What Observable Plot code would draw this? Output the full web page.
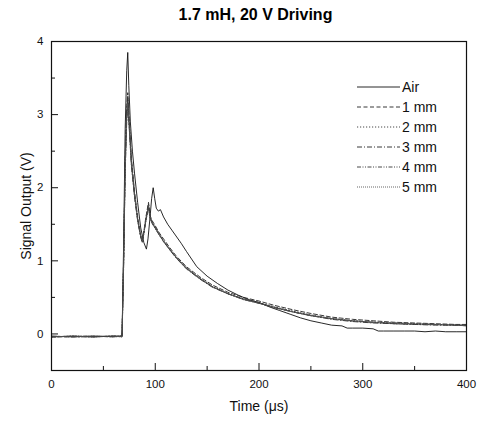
<!DOCTYPE html>
<html><head><meta charset="utf-8">
<script src="https://cdn.jsdelivr.net/npm/d3@7"></script>
<script src="https://cdn.jsdelivr.net/npm/@observablehq/plot@0.6"></script>
<style>
body{margin:0;background:#fff;font-family:"Liberation Sans",Arial,sans-serif;}
#wrap{position:relative;width:483px;height:421px;}
#title{height:30px;line-height:30px;font-weight:bold;font-size:16px;text-align:center;padding-left:28px;box-sizing:border-box;width:483px;}
#legend{position:absolute;left:0;top:0;pointer-events:none;}
</style></head>
<body>
<div id="wrap"><div id="title">1.7 mH, 20 V Driving</div><div id="chart"></div><svg id="legend" width="483" height="421"></svg></div>
<script>
// ---- data (time in µs, signal in V) ----
const seriesNames = ["Air", "1 mm", "2 mm", "3 mm", "4 mm", "5 mm"];
const tAir = [0,20,40,60,68,69.5,71,72.5,73.5,74.5,76,78,80,83,86,89,91.5,93,95,96.5,98,99.5,101,103,105,108,112,116,120,125,130,140,150,160,170,180,190,200,210,220,230,240,250,260,270,280,285,290,300,310,315,320,330,340,350,360,370,380,390,400];
const vAir = [-0.04,-0.03,-0.04,-0.03,-0.03,1.2,2.8,3.6,3.85,3.4,2.9,2.5,2.2,1.8,1.45,1.25,1.16,1.3,1.6,1.85,2.0,1.85,1.72,1.68,1.7,1.6,1.5,1.42,1.34,1.24,1.13,0.92,0.79,0.69,0.6,0.53,0.47,0.43,0.37,0.32,0.27,0.22,0.18,0.15,0.12,0.11,0.08,0.08,0.08,0.07,0.04,0.04,0.04,0.04,0.04,0.03,0.04,0.03,0.03,0.03];
const tMm = [0,20,40,60,68,69.5,71,72.5,73.5,75,77,80,83,86,87.5,89,91,93.5,95,97,100,104,108,114,120,130,143,155,170,185,200,215,233,250,270,290,310,330,350,370,390,400];
const v1mm = [-0.04,-0.04,-0.03,-0.04,-0.03,1.0,2.4,3.1,3.3,2.9,2.4,1.95,1.6,1.35,1.28,1.4,1.6,1.8,1.62,1.55,1.48,1.38,1.3,1.18,1.07,0.92,0.78,0.67,0.57,0.5,0.45,0.39,0.33,0.28,0.23,0.2,0.18,0.16,0.15,0.14,0.13,0.13];
const v2mm = [-0.04,-0.03,-0.04,-0.03,-0.03,1.0,2.3,3.0,3.2,2.85,2.35,1.9,1.57,1.33,1.26,1.38,1.57,1.75,1.6,1.52,1.45,1.35,1.27,1.16,1.05,0.9,0.76,0.65,0.55,0.48,0.43,0.37,0.31,0.26,0.21,0.18,0.16,0.15,0.14,0.13,0.12,0.12];
const v3mm = [-0.03,-0.04,-0.04,-0.03,-0.04,0.9,2.2,2.9,3.1,2.8,2.3,1.88,1.55,1.32,1.25,1.37,1.56,1.78,1.6,1.53,1.46,1.36,1.27,1.15,1.04,0.89,0.75,0.64,0.55,0.47,0.42,0.36,0.3,0.25,0.2,0.17,0.15,0.14,0.13,0.12,0.12,0.11];
const v4mm = [-0.04,-0.03,-0.03,-0.04,-0.03,1.0,2.35,3.05,3.25,2.88,2.38,1.92,1.58,1.34,1.27,1.39,1.55,1.72,1.58,1.51,1.44,1.35,1.26,1.15,1.05,0.9,0.76,0.65,0.55,0.48,0.42,0.36,0.3,0.25,0.21,0.18,0.16,0.14,0.13,0.13,0.12,0.12];
const v5mm = [-0.03,-0.04,-0.03,-0.03,-0.04,0.95,2.25,2.95,3.15,2.82,2.33,1.9,1.56,1.33,1.26,1.38,1.56,1.76,1.6,1.52,1.45,1.36,1.27,1.16,1.05,0.9,0.76,0.64,0.55,0.47,0.42,0.36,0.3,0.25,0.21,0.18,0.16,0.15,0.14,0.13,0.12,0.12];
const xTicks = [0, 100, 200, 300, 400];
const xMinor = [50, 150, 250, 350];
const yTicks = [0, 1, 2, 3, 4];
const yMinor = [-0.5, 0.5, 1.5, 2.5, 3.5];

const W = 483, H = 391, mL = 51, mR = 17, mT = 11, mB = 51;
const fw = W - mL - mR, fh = H - mT - mB;

const dashes = ["none", "4,2.5", "1.2,1.8", "5,2,1,2", "4,1.5,1,1.5,1,1.5", "1,1"];
const strokes = ["#111", "#222", "#333", "#222", "#333", "#555"];
const valueSets = [vAir, v1mm, v2mm, v3mm, v4mm, v5mm];
const timeSets = [tAir, tMm, tMm, tMm, tMm, tMm];
const rows = valueSets.map((vs, k) => vs.map((v, i) => ({t: timeSets[k][i], v, s: seriesNames[k]})));

const lineMarks = rows.map((r, k) => Plot.line(r, {x: "t", y: "v", stroke: strokes[k], strokeWidth: 0.9, strokeDasharray: dashes[k]}));

const chart = Plot.plot({
  width: W, height: H,
  marginLeft: mL, marginRight: mR, marginTop: mT, marginBottom: mB,
  style: {fontFamily: '"Liberation Sans", Arial, sans-serif', fontSize: "11.5px", background: "#fff", color: "#111"},
  x: {domain: [0, 400]},
  y: {domain: [-0.5, 4]},
  marks: [
    ...lineMarks,
    Plot.frame({stroke: "#111", strokeWidth: 1.2}),
    Plot.tickX(xTicks, {x: d => d, insetTop: fh - 7, stroke: "#111"}),
    Plot.tickX(xMinor, {x: d => d, insetTop: fh - 4, stroke: "#111"}),
    Plot.tickY(yTicks, {y: d => d, insetRight: fw - 7, stroke: "#111"}),
    Plot.tickY(yMinor, {y: d => d, insetRight: fw - 4, stroke: "#111"}),
    Plot.axisX({ticks: xTicks, tickSize: 0, tickPadding: 9, tickFormat: d3.format("d"), label: "Time (μs)", labelAnchor: "center", labelArrow: false, labelOffset: 40}),
    Plot.axisY({ticks: yTicks, tickSize: 0, tickPadding: 8, tickFormat: d3.format("d"), label: "Signal Output (V)", labelAnchor: "center", labelArrow: false, labelOffset: 30})
  ]
});
d3.select(chart).selectAll("g[aria-label$='axis label'] text").style("font-size", "14px");
document.getElementById("chart").appendChild(chart);

// legend overlay
const lg = d3.select("#legend");
seriesNames.forEach((name, k) => {
  const y = 87 + k * 20;
  lg.append("line").attr("x1", 357).attr("x2", 400).attr("y1", y).attr("y2", y)
    .attr("stroke", strokes[k]).attr("stroke-width", 0.9).attr("stroke-dasharray", dashes[k]);
  lg.append("text").attr("x", 402).attr("y", y).attr("dy", "0.35em").text(name)
    .style("font-family", '"Liberation Sans", Arial, sans-serif').style("font-size", "14px").attr("fill", "#111");
});
</script>
</body></html>
